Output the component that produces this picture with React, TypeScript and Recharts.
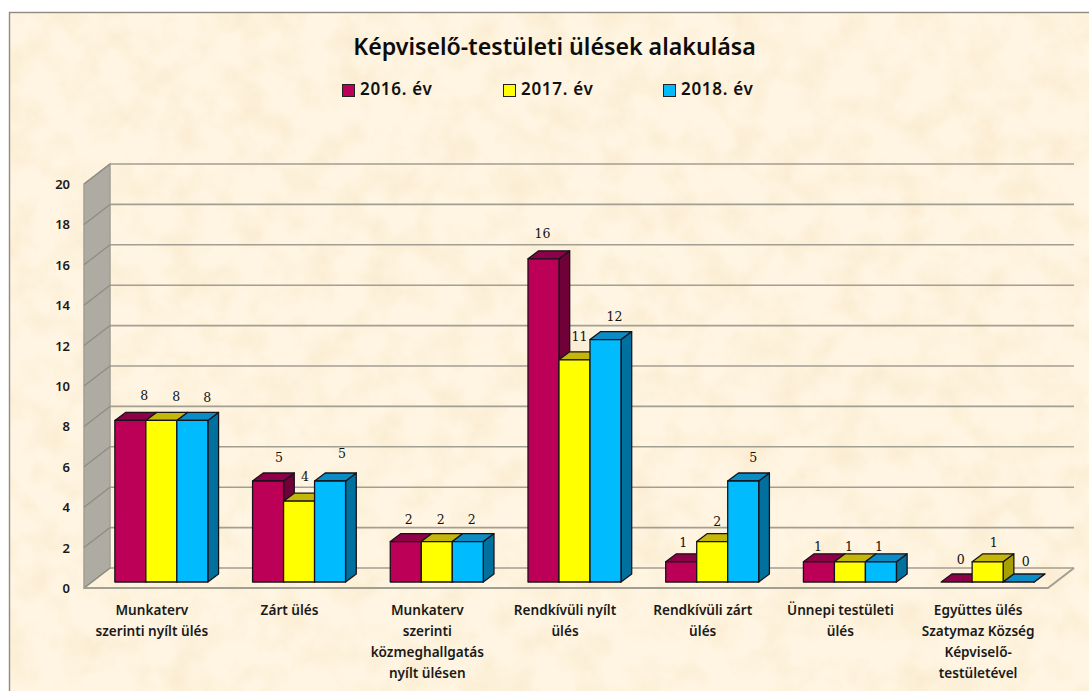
import React from "react";
import { BarChart, Bar, XAxis, YAxis, CartesianGrid, Legend, LabelList, ReferenceArea } from "recharts";

const categories = [
  "Munkaterv\nszerinti nyílt ülés",
  "Zárt ülés",
  "Munkaterv\nszerinti\nközmeghallgatás\nnyílt ülésen",
  "Rendkívüli nyílt\nülés",
  "Rendkívüli zárt\nülés",
  "Ünnepi testületi\nülés",
  "Együttes ülés\nSzatymaz Község\nKépviselő-\ntestületével",
];
const values2016 = [8, 5, 2, 16, 1, 1, 0];
const values2017 = [8, 4, 2, 11, 2, 1, 1];
const values2018 = [8, 5, 2, 12, 5, 1, 0];
const yTicks = [0, 2, 4, 6, 8, 10, 12, 14, 16, 18, 20];
const tableRows = categories.map((name, i) => ({
  name,
  y2016: values2016[i],
  y2017: values2017[i],
  y2018: values2018[i],
}));

// Hand-placed data-label nudges from each bar's centre/top, as in the reference.
const nudge2016 = [[14, -25], [11, -24], [3, -23], [-1, -26], [2, -20], [-1, -16], [4, -23]];
const nudge2017 = [[15, -24], [6, -25], [4, -23], [5, -24], [5, -21], [-1, -16], [6, -20]];
const nudge2018 = [[15, -23], [12, -28], [4, -23], [9, -24], [10, -24], [-2, -16], [7, -21]];

const W = 1089;
const H = 691;
const DEPTH_X = 10.7;
const DEPTH_Y = 8;
const BACK_X = 18;
const BACK_Y = -14;
const FRONT_X = -8;
const FRONT_Y = 6;
const GRID = "#a39e92";
const UI_FONT = "'Noto Sans', sans-serif";
const NUM_FONT = "'DejaVu Serif', serif";

const palette = {
  y2016: { front: "#bd0057", top: "#8e0047", side: "#6f0038" },
  y2017: { front: "#ffff00", top: "#c4b70a", side: "#a8a000" },
  y2018: { front: "#00bcff", top: "#0b8cc4", side: "#00719f" },
};

const make3DBar = (c: { front: string; top: string; side: string }) => (p: any) => {
  const { x, y, width: w, height: h } = p;
  const edge = { stroke: "#17131a", strokeWidth: 1.3, strokeLinejoin: "round" as const };
  return (
    <g>
      <polygon
        points={`${x + w},${y} ${x + w + DEPTH_X},${y - DEPTH_Y} ${x + w + DEPTH_X},${y + h - DEPTH_Y} ${x + w},${y + h}`}
        fill={c.side}
        {...edge}
      />
      <polygon
        points={`${x},${y} ${x + DEPTH_X},${y - DEPTH_Y} ${x + w + DEPTH_X},${y - DEPTH_Y} ${x + w},${y}`}
        fill={c.top}
        {...edge}
      />
      <rect x={x} y={y} width={w} height={h} fill={c.front} {...edge} />
    </g>
  );
};

const makeValueLabel = (nudges: number[][]) => (p: any) => {
  const [dx, dy] = nudges[p.index] || [0, -20];
  return (
    <text
      x={p.x + p.width / 2 + dx}
      y={p.y + dy + 5}
      textAnchor="middle"
      fontFamily={NUM_FONT}
      fontSize={12.5}
      fill="#111"
    >
      {p.value}
    </text>
  );
};

const WallAndFloor = (p: any) => {
  const { x, y, width: w, height: h } = p;
  const fx = x + FRONT_X;
  const bx = x + BACK_X;
  const fb = y + h + FRONT_Y;
  const bb = y + h + BACK_Y;
  const maxTick = yTicks[yTicks.length - 1];
  return (
    <g>
      <polygon
        points={`${fx},${y + FRONT_Y} ${bx},${y + BACK_Y} ${bx},${bb} ${fx},${fb}`}
        fill="#aeaba3"
        stroke={GRID}
        strokeWidth={1.5}
      />
      {yTicks.map((t) => {
        const ty = y + h * (1 - t / maxTick);
        return (
          <line key={t} x1={fx} y1={ty + FRONT_Y} x2={bx} y2={ty + BACK_Y} stroke="#8f8b80" strokeWidth={1.2} />
        );
      })}
      <polyline
        points={`${bx + w},${bb} ${fx + w},${fb} ${fx},${fb}`}
        fill="none"
        stroke={GRID}
        strokeWidth={2}
      />
    </g>
  );
};

const gridLine = (p: any) => {
  const { x1, x2, y1 } = p;
  return (
    <line
      key={p.key ?? y1}
      x1={x1 + BACK_X}
      y1={y1 + BACK_Y}
      x2={x2 + BACK_X}
      y2={y1 + BACK_Y}
      stroke={GRID}
      strokeWidth={1.6}
    />
  );
};

const YTick = (p: any) => (
  <text
    x={70}
    y={p.y + FRONT_Y + 5}
    textAnchor="end"
    fontFamily={UI_FONT}
    fontWeight={600}
    fontSize={13}
    fill="#1a1a1a"
  >
    {p.payload.value}
  </text>
);

const XTick = (p: any) => {
  const lines = String(p.payload.value).split("\n");
  const cx = p.x + FRONT_X - 1;
  return (
    <text
      x={cx}
      y={615}
      textAnchor="middle"
      fontFamily={UI_FONT}
      fontWeight={600}
      fontSize={13.6}
      fill="#1a1a1a"
    >
      {lines.map((line, i) => (
        <tspan key={i} x={cx} dy={i === 0 ? 0 : 21}>
          {line}
        </tspan>
      ))}
    </text>
  );
};

const legendLefts = [342, 503, 663];

const LegendContent = (p: any) => (
  <div style={{ position: "absolute", left: 0, top: 0, width: 0, height: 0 }}>
    {(p.payload || []).map((e: any, i: number) => (
      <React.Fragment key={e.value}>
        <div
          style={{
            position: "absolute",
            left: legendLefts[i],
            top: 84,
            width: 11,
            height: 11,
            background: e.color,
            border: "1px solid #222",
          }}
        />
        <div
          style={{
            position: "absolute",
            left: legendLefts[i] + 18,
            top: 77,
            whiteSpace: "nowrap",
            fontFamily: UI_FONT,
            fontWeight: 600,
            fontSize: 17,
            letterSpacing: 0.7,
            lineHeight: "24px",
            color: "#111",
          }}
        >
          {e.value}
        </div>
      </React.Fragment>
    ))}
  </div>
);

export default function App() {
  return (
    <div style={{ position: "absolute", left: 0, top: 0, width: W, height: H, overflow: "hidden", background: "#fff" }}>
      <svg width={W} height={H} style={{ position: "absolute", left: 0, top: 0 }}>
        <defs>
          <filter id="parchment" x="0" y="0" width="100%" height="100%">
            <feTurbulence type="fractalNoise" baseFrequency="0.03" numOctaves="4" seed="7" />
            <feColorMatrix
              type="matrix"
              values="0 0 0 0 0.96  0 0 0 0 0.84  0 0 0 0 0.64  2.0 0 0 0 -0.78"
            />
          </filter>
        </defs>
        <rect x={9.5} y={12.5} width={W} height={H} fill="#fff5e2" />
        <rect x={10} y={13} width={W} height={H} filter="url(#parchment)" />
        <rect x={9.5} y={12.5} width={W} height={H} fill="none" stroke="#8f8a80" strokeWidth={1.4} />
      </svg>
      <div
        style={{
          position: "absolute",
          left: 0,
          width: 1109,
          top: 26,
          textAlign: "center",
          fontFamily: UI_FONT,
          fontWeight: 600,
          fontSize: 23.2,
          lineHeight: "40px",
          color: "#0c0c0c",
        }}
      >
        Képviselő-testületi ülések alakulása
      </div>
      <div style={{ position: "absolute", left: 0, top: 0 }}>
        <BarChart
          width={W}
          height={H}
          data={tableRows}
          margin={{ top: 178, left: 91, right: 33, bottom: 108 }}
          barCategoryGap={22.85}
          barGap={0}
        >
          <ReferenceArea y1={0} y2={20} shape={WallAndFloor} ifOverflow="visible" />
          <CartesianGrid vertical={false} horizontal={gridLine} />
          <XAxis dataKey="name" height={1} axisLine={false} tickLine={false} tick={XTick} interval={0} />
          <YAxis width={1} domain={[0, 20]} ticks={yTicks} axisLine={false} tickLine={false} tick={YTick} interval={0} />
          <Legend
            content={LegendContent}
            wrapperStyle={{ position: "absolute", left: 0, top: 0, width: 0, height: 0 }}
          />
          <Bar dataKey="y2016" name="2016. év" fill={palette.y2016.front} shape={make3DBar(palette.y2016)} isAnimationActive={false}>
            <LabelList dataKey="y2016" content={makeValueLabel(nudge2016)} />
          </Bar>
          <Bar dataKey="y2017" name="2017. év" fill={palette.y2017.front} shape={make3DBar(palette.y2017)} isAnimationActive={false}>
            <LabelList dataKey="y2017" content={makeValueLabel(nudge2017)} />
          </Bar>
          <Bar dataKey="y2018" name="2018. év" fill={palette.y2018.front} shape={make3DBar(palette.y2018)} isAnimationActive={false}>
            <LabelList dataKey="y2018" content={makeValueLabel(nudge2018)} />
          </Bar>
        </BarChart>
      </div>
    </div>
  );
}
